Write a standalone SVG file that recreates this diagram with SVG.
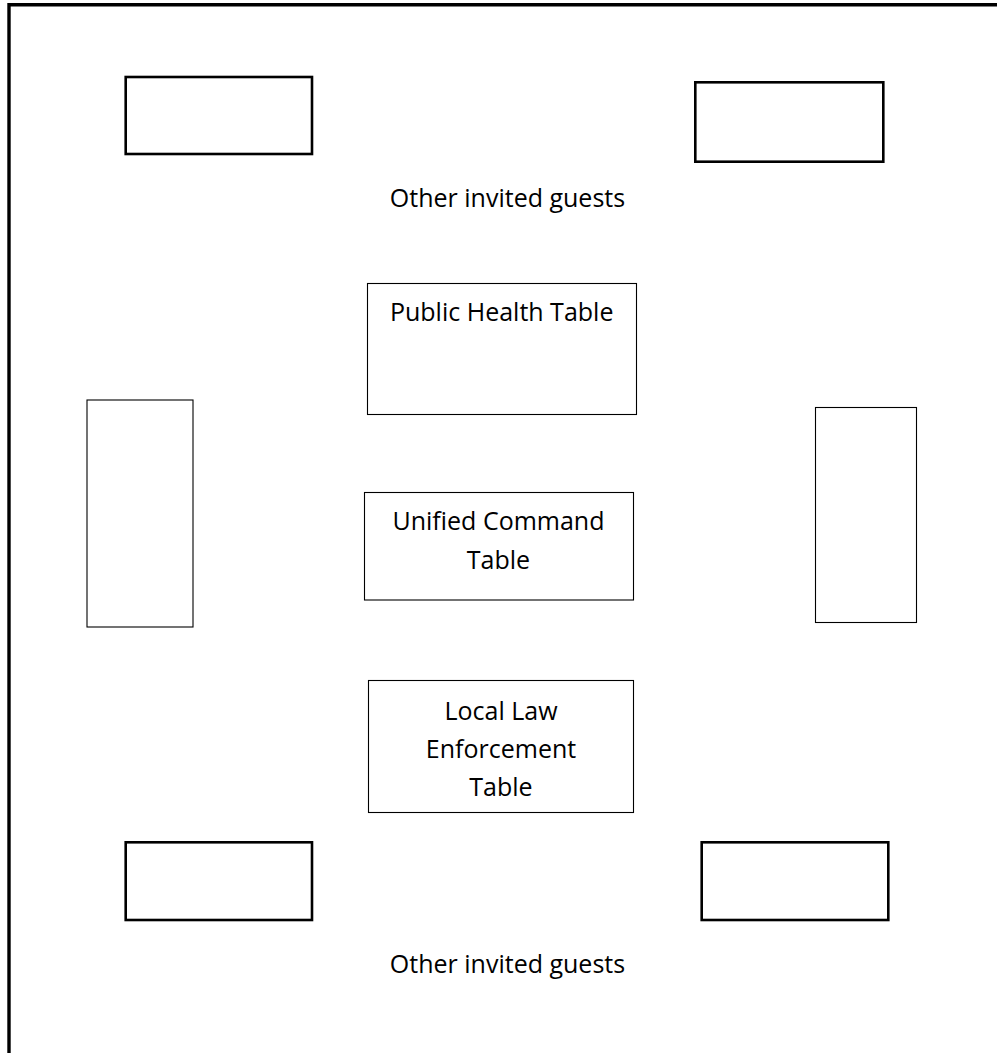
<svg xmlns="http://www.w3.org/2000/svg" width="997" height="1053" viewBox="0 0 997 1053">
<style>
.thick{fill:#fff;stroke:#000;stroke-width:2.6}
.thin{fill:#fff;stroke:#000;stroke-width:1.1}
.lbl{font-family:"Open Sans","Noto Sans",sans-serif;font-size:25px;fill:#000;text-anchor:middle}
</style>
<rect x="0" y="0" width="997" height="1053" fill="#fff"/>
<path id="room" d="M9,1053 V4.8 H997" fill="none" stroke="#000" stroke-width="3.4"/>
<g id="table-top-left"><rect class="thick" x="125.7" y="77" width="186.3" height="77"/></g>
<g id="table-top-right"><rect class="thick" x="695.3" y="82.3" width="188" height="79.4"/></g>
<g id="guests-top"><text class="lbl" x="507.5" y="206.7">Other invited guests</text></g>
<g id="public-health"><rect class="thin" x="367.5" y="283.5" width="269" height="131"/><text class="lbl" x="501.7" y="320.7">Public Health Table</text></g>
<g id="table-left"><rect class="thin" x="87" y="400" width="106" height="227"/></g>
<g id="table-right"><rect class="thin" x="815.5" y="407.5" width="101" height="215"/></g>
<g id="unified-command"><rect class="thin" x="364.5" y="492.5" width="269" height="107.5"/><text class="lbl" x="498.5" y="530">Unified Command</text><text class="lbl" x="498.5" y="569.3">Table</text></g>
<g id="local-law"><rect class="thin" x="368.5" y="680.5" width="265" height="132"/><text class="lbl" x="501" y="719.5">Local Law</text><text class="lbl" x="501" y="758">Enforcement</text><text class="lbl" x="501" y="795.5">Table</text></g>
<g id="table-bottom-left"><rect class="thick" x="125.7" y="842.3" width="186.3" height="77.7"/></g>
<g id="table-bottom-right"><rect class="thick" x="701.7" y="842.3" width="186.6" height="77.7"/></g>
<g id="guests-bottom"><text class="lbl" x="507.5" y="973.3">Other invited guests</text></g>
<g id="connectors"/>
</svg>
